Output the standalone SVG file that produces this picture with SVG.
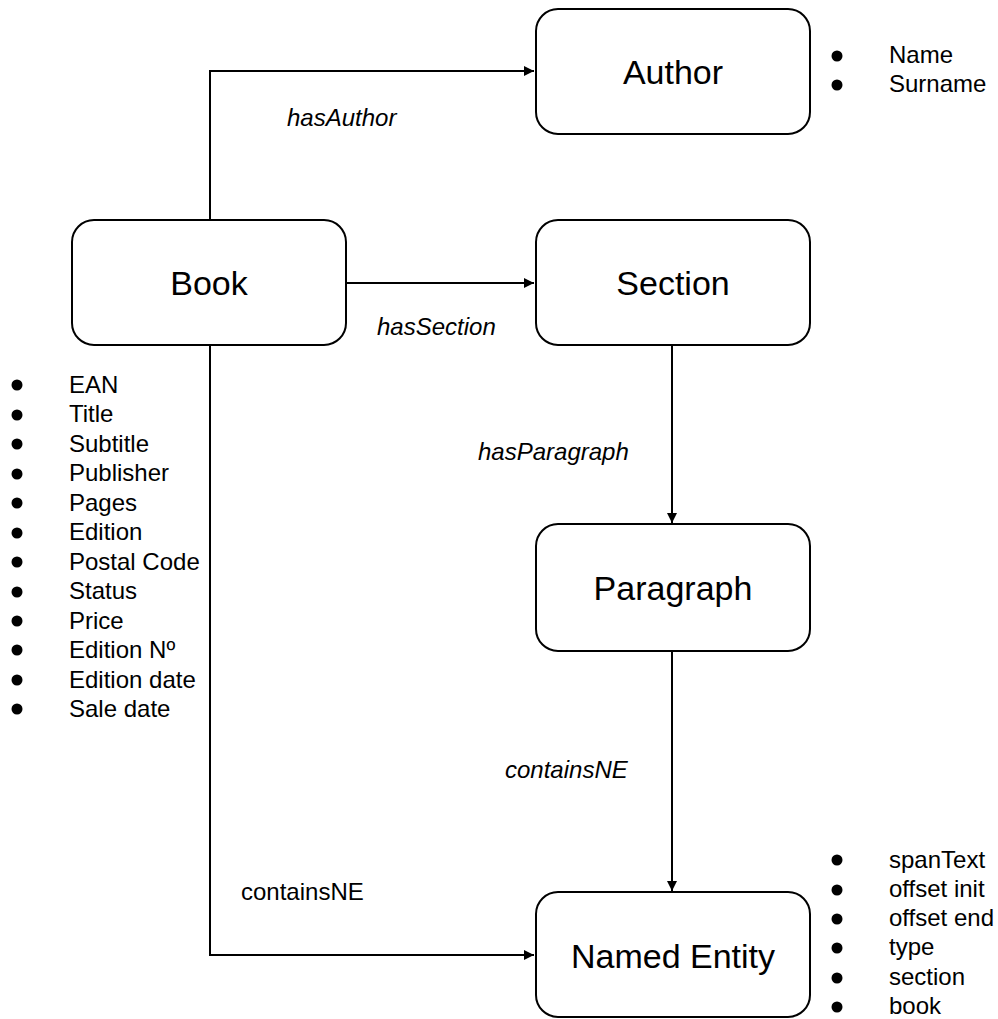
<svg xmlns="http://www.w3.org/2000/svg" width="998" height="1019" viewBox="0 0 998 1019">
<style>
.box{fill:#fff;stroke:#000;stroke-width:2}
.lbl{font-family:"Liberation Sans",Arial,sans-serif;font-size:34px;fill:#000;text-anchor:middle}
.edge{font-family:"Liberation Sans",Arial,sans-serif;font-size:24px;fill:#000;font-style:italic}
.plain{font-family:"Liberation Sans",Arial,sans-serif;font-size:24px;fill:#000}
.item{font-family:"Liberation Sans",Arial,sans-serif;font-size:24px;fill:#000}
.conn{fill:none;stroke:#000;stroke-width:2}
</style>
<defs>
<marker id="arr" viewBox="0 0 10 10" refX="10" refY="5" markerWidth="5" markerHeight="5" orient="auto" markerUnits="strokeWidth">
<path d="M0,0 L10,5 L0,10 z" fill="#000"/>
</marker>
</defs>
<rect width="998" height="1019" fill="#fff"/>
<g id="connectors">
<path class="conn" d="M210,220 V71 H534" marker-end="url(#arr)"/>
<path class="conn" d="M347,283 H534" marker-end="url(#arr)"/>
<path class="conn" d="M672,346 V523" marker-end="url(#arr)"/>
<path class="conn" d="M672,652 V891" marker-end="url(#arr)"/>
<path class="conn" d="M210,346 V955 H534" marker-end="url(#arr)"/>
<text class="edge" x="287" y="126">hasAuthor</text>
<text class="edge" x="377" y="335">hasSection</text>
<text class="edge" x="478" y="460">hasParagraph</text>
<text class="edge" x="505" y="778">containsNE</text>
<text class="plain" x="241" y="900">containsNE</text>
</g>
<g id="author">
<rect class="box" x="536" y="9" width="274" height="125" rx="22"/>
<text class="lbl" x="673" y="84">Author</text>
</g>
<g id="author-attrs">
<circle cx="837" cy="56" r="5.5"/><text class="item" x="889" y="63">Name</text>
<circle cx="837" cy="85" r="5.5"/><text class="item" x="889" y="92">Surname</text>
</g>
<g id="book">
<rect class="box" x="72" y="220" width="274" height="125" rx="22"/>
<text class="lbl" x="209" y="295">Book</text>
</g>
<g id="book-attrs">
<circle cx="17" cy="385" r="5.5"/><text class="item" x="69" y="393">EAN</text>
<circle cx="17" cy="415" r="5.5"/><text class="item" x="69" y="422">Title</text>
<circle cx="17" cy="444" r="5.5"/><text class="item" x="69" y="452">Subtitle</text>
<circle cx="17" cy="474" r="5.5"/><text class="item" x="69" y="481">Publisher</text>
<circle cx="17" cy="503" r="5.5"/><text class="item" x="69" y="511">Pages</text>
<circle cx="17" cy="533" r="5.5"/><text class="item" x="69" y="540">Edition</text>
<circle cx="17" cy="562" r="5.5"/><text class="item" x="69" y="570">Postal Code</text>
<circle cx="17" cy="592" r="5.5"/><text class="item" x="69" y="599">Status</text>
<circle cx="17" cy="621" r="5.5"/><text class="item" x="69" y="629">Price</text>
<circle cx="17" cy="650" r="5.5"/><text class="item" x="69" y="658">Edition Nº</text>
<circle cx="17" cy="680" r="5.5"/><text class="item" x="69" y="688">Edition date</text>
<circle cx="17" cy="709" r="5.5"/><text class="item" x="69" y="717">Sale date</text>
</g>
<g id="section">
<rect class="box" x="536" y="220" width="274" height="125" rx="22"/>
<text class="lbl" x="673" y="295">Section</text>
</g>
<g id="paragraph">
<rect class="box" x="536" y="524" width="274" height="127" rx="22"/>
<text class="lbl" x="673" y="600">Paragraph</text>
</g>
<g id="named-entity">
<rect class="box" x="536" y="892" width="274" height="125" rx="22"/>
<text class="lbl" x="673" y="968">Named Entity</text>
</g>
<g id="ne-attrs">
<circle cx="837" cy="860" r="5.5"/><text class="item" x="889" y="868">spanText</text>
<circle cx="837" cy="890" r="5.5"/><text class="item" x="889" y="897">offset init</text>
<circle cx="837" cy="919" r="5.5"/><text class="item" x="889" y="926">offset end</text>
<circle cx="837" cy="948" r="5.5"/><text class="item" x="889" y="955">type</text>
<circle cx="837" cy="978" r="5.5"/><text class="item" x="889" y="985">section</text>
<circle cx="837" cy="1007" r="5.5"/><text class="item" x="889" y="1014">book</text>
</g>
</svg>
